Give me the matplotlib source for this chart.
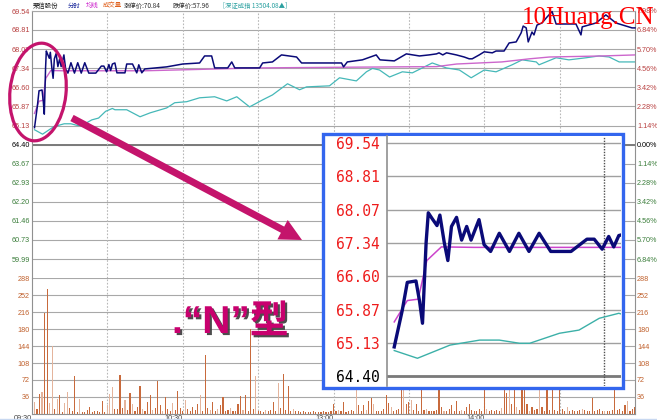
import matplotlib
matplotlib.use('Agg')
import matplotlib.pyplot as plt
from matplotlib.patches import Ellipse, FancyArrow, Rectangle
import matplotlib.patheffects as pe
import numpy as np

plt.rcParams['font.family'] = ['Liberation Sans', 'Noto Sans CJK SC', 'DejaVu Sans']

# ---------------- data ----------------
price_ticks = [69.54, 68.81, 68.07, 67.34, 66.60, 65.87, 65.13, 64.40,
               63.67, 62.93, 62.20, 61.46, 60.73, 59.99]
price_tick_labels = ['69.54', '68.81', '68.07', '67.34', '66.60', '65.87', '65.13', '64.40',
                     '63.67', '62.93', '62.20', '61.46', '60.73', '59.99']
pct_tick_labels = ['7.98%', '6.84%', '5.70%', '4.56%', '3.42%', '2.28%', '1.14%', '0.00%',
                   '1.14%', '2.28%', '3.42%', '4.56%', '5.70%', '6.84%']
vol_ticks = [288, 252, 216, 180, 144, 108, 72, 36]
vol_tick_labels = ['288', '252', '216', '180', '144', '108', '72', '36']
time_ticks = [0, 60, 120, 180]
time_labels = ['09:30', '10:30', '13:00', '14:00']
grid_minutes = [30, 60, 90, 120, 150, 180, 210]
inset_ticks = [69.54, 68.81, 68.07, 67.34, 66.60, 65.87, 65.13, 64.40]
inset_labels = ['69.54', '68.81', '68.07', '67.34', '66.60', '65.87', '65.13', '64.40']

# price line (minute, price)
price_t = [1.0, 2.1, 2.8, 4.0, 4.5, 4.9, 5.4, 5.7, 6.2, 6.9, 7.3, 7.9, 8.4, 8.9, 9.6,
           10.3, 11.0, 11.6, 12.7, 13.4, 14.3, 15.5, 16.9, 18.2, 19.6, 21.0, 22.6, 25.4,
           27.6, 28.6, 29.7, 30.6, 31.3, 32.0, 33.0, 33.8, 37.0, 37.7, 40.0, 41.7, 42.5,
           43.7, 44.9, 53.6, 60.0, 66.7, 68.7, 71.5, 72.7, 77.9, 79.5, 80.7, 90.6, 91.8,
           95.7, 99.3, 105.3, 107.3, 123.2, 124.0, 125.5, 131.5, 137.0, 138.5, 144.2,
           149.0, 154.2, 158.0, 161.0, 162.0, 163.5, 165.0, 168.9, 172.0, 174.0, 175.2,
           178.0, 180.0, 183.2, 184.7, 187.9, 189.9, 192.7, 194.7, 195.5, 196.7, 197.5,
           199.0, 199.8, 201.0, 203.0, 205.0, 207.0, 208.6, 216.5, 218.5, 219.0, 224.5,
           226.9, 228.4, 232.4, 238.8, 240.0]
price_v = [65.05, 65.85, 66.47, 66.50, 66.05, 65.57, 67.35, 68.00, 67.88, 67.72, 67.95,
           67.35, 66.95, 67.70, 67.90, 67.40, 67.70, 67.40, 67.85, 67.30, 67.15, 67.55,
           67.15, 67.55, 67.15, 67.55, 67.15, 67.15, 67.42, 67.42, 67.20, 67.48, 67.25,
           67.50, 67.54, 67.16, 67.16, 67.50, 67.50, 67.16, 67.47, 67.16, 67.31, 67.39,
           67.50, 67.54, 67.81, 67.81, 67.35, 67.35, 67.58, 67.35, 67.35, 67.54, 67.58,
           67.85, 67.77, 67.54, 67.54, 67.39, 67.58, 67.66, 67.85, 67.66, 67.62, 67.89,
           67.81, 67.85, 67.89, 67.93, 67.85, 67.93, 67.85, 67.77, 67.70, 67.70, 67.85,
           67.97, 67.93, 68.00, 68.00, 68.31, 68.35, 68.70, 68.96, 68.89, 68.35, 68.73,
           68.62, 69.00, 69.08, 69.31, 69.52, 69.04, 69.04, 68.62, 68.93, 69.08, 69.27,
           69.39, 69.08, 68.89, 68.89]

# average price line
avg_t = [1.0, 2.8, 4.3, 5.5, 7.5, 12.0, 45.0, 90.0, 130.0, 161.0, 169.0, 187.0,
         198.0, 206.0, 227.0, 240.0]
avg_v = [65.60, 66.07, 66.10, 66.95, 67.25, 67.24, 67.24, 67.35, 67.38, 67.40, 67.50,
         67.58, 67.70, 67.77, 67.81, 67.85]

# index line (scaled onto price axis)
idx_t = [1.0, 4.2, 8.7, 12.8, 15.5, 18.3, 19.7, 23.8, 26.5, 29.3, 32.0, 33.0, 37.7,
         43.0, 47.0, 53.6, 56.8, 61.6, 66.7, 72.7, 77.5, 81.5, 86.6, 91.8, 95.7, 101.7,
         106.5, 109.3, 118.4, 122.4, 129.1, 133.1, 135.5, 138.3, 142.3, 147.4, 151.4,
         159.3, 164.9, 170.1, 174.8, 180.0, 184.7, 191.1, 195.1, 200.7, 201.8, 208.6,
         213.7, 220.5, 225.7, 229.7, 233.7, 240.0]
idx_v = [64.97, 64.80, 65.09, 65.20, 65.20, 65.13, 65.13, 65.35, 65.42, 65.68, 65.79,
         65.74, 65.74, 65.47, 65.62, 65.81, 66.01, 66.05, 66.20, 66.24, 66.08, 66.24,
         65.85, 66.12, 66.31, 66.74, 66.51, 66.62, 66.66, 66.97, 66.85, 67.20, 67.33,
         67.27, 67.00, 67.20, 67.16, 67.54, 67.35, 67.27, 66.97, 67.27, 67.20, 67.47,
         67.66, 67.58, 67.47, 67.74, 67.66, 67.74, 67.81, 67.77, 67.58, 67.58]

# per-minute volume, minutes 1..240
volume = [26, 10, 42, 47, 215, 265, 24, 145, 10, 31,
          40, 3, 23, 47, 12, 5, 80, 3, 32, 3,
          3, 8, 15, 3, 5, 5, 3, 28, 3, 18,
          42, 56, 10, 10, 83, 12, 30, 8, 45, 20,
          6, 15, 60, 10, 5, 25, 40, 8, 12, 70,
          18, 6, 35, 10, 5, 22, 8, 48, 12, 6,
          30, 10, 5, 15, 8, 20, 40, 6, 126, 12,
          8, 25, 6, 10, 18, 35, 5, 8, 12, 6,
          5, 20, 37, 8, 40, 6, 180, 10, 80, 5,
          6, 4, 8, 5, 8, 25, 5, 66, 12, 85,
          8, 60, 5, 10, 5, 6, 4, 6, 3, 4,
          3, 5, 3, 4, 3, 5, 4, 3, 5, 20,
          6, 8, 5, 25, 4, 6, 8, 6, 75, 19,
          5, 19, 8, 27, 34, 20, 6, 5, 6, 10,
          40, 22, 15, 6, 8, 10, 80, 70, 20, 25,
          30, 8, 20, 6, 51, 8, 10, 6, 5, 6,
          8, 51, 15, 5, 6, 10, 19, 5, 28, 6,
          8, 6, 15, 20, 8, 6, 6, 10, 5, 51,
          10, 6, 8, 6, 8, 5, 12, 75, 45, 85,
          20, 70, 15, 8, 80, 90, 20, 6, 15, 8,
          10, 70, 15, 6, 75, 8, 70, 8, 6, 51,
          10, 6, 15, 5, 8, 6, 6, 8, 10, 8,
          5, 6, 34, 5, 8, 10, 6, 6, 5, 6,
          8, 55, 8, 10, 6, 19, 28, 6, 10, 15]
vol_minutes = list(range(1, 241))
vol_dir = ("LDDLDDLLDL" "DDLLDDDDLD" "DDDDDDDDDL" "LLDDD"
           "DLDDLDDDLD" "DDLDDDLDDD" "LDDDDLDDDD" "DLDDDLDDLD"
           "DDDLDDDDLD" "DDDLDDDLDD" "DDLDDDDDLD" "DDDDDDDDDD"
           "DDDDDDLDDD" "DDDLDDDLDD" "LDDDDDDLDD" "DDLDDLDDDD"
           "DLDDDDDDLD" "DDDDDLDDDD" "DDDDDLDDDD" "DLDDLDDLDD"
           "DDLDDDLDDD" "DDDDDDDLDD" "DDDLDDDDDD" "DDLDDDDDDD" "DLDDD")

# ---------------- figure ----------------
W, H = 657, 420
fig = plt.figure(figsize=(W / 100, H / 100), dpi=100)


def px_axes(l, t, r, b, **kw):
    return fig.add_axes([l / W, 1 - b / H, (r - l) / W, (b - t) / H], **kw)


GRID = '#a8a8a8'
LBL_FS = 5.2
up_c, zero_c, dn_c, vol_c = '#b84040', '#000000', '#3a7d3a', '#c0602c'

# price panel
axp = px_axes(32, 11, 635, 278.4)
axp.set_xlim(0, 240)
axp.set_ylim(59.25, 69.54)
axp.set_xticks([])
axp.set_yticks(price_ticks)
axp.set_yticklabels(price_tick_labels, fontsize=LBL_FS)
axp.tick_params(axis='y', length=0, pad=1.5)
pcols = [up_c] * 7 + [zero_c] + [dn_c] * 6
for lab, c in zip(axp.get_yticklabels(), pcols):
    lab.set_color(c)
axp.spines['bottom'].set_visible(False)
axp.spines['top'].set_color(GRID)
axp.spines['left'].set_color('#909090')
axp.spines['right'].set_color('#909090')
for v in price_ticks:
    axp.axhline(v, color=GRID, lw=0.8, zorder=0)
axp.axhline(64.40, color='#7a7a7a', lw=1.4, zorder=0)
for m in grid_minutes:
    axp.axvline(m, color='#b8b8b8', lw=0.8, ls=(0, (1.5, 1.5)), zorder=0)

axp.plot(idx_t, idx_v, color='#45b8b8', lw=0.9, zorder=2)
axp.plot(avg_t, avg_v, color='#cc66cc', lw=1.0, zorder=3)
axp.plot(price_t, price_v, color='#0a0a78', lw=1.1, zorder=4, clip_on=False)

axr = axp.twinx()
axr.set_ylim(axp.get_ylim())
axr.set_yticks(price_ticks)
axr.set_yticklabels(pct_tick_labels, fontsize=LBL_FS)
axr.tick_params(axis='y', length=0, pad=1.5)
for lab, c in zip(axr.get_yticklabels(), pcols):
    lab.set_color(c)
for s in axr.spines.values():
    s.set_visible(False)

# volume panel
axv = px_axes(32, 278.4, 635, 413.8)
axv.set_xlim(0, 240)
axv.set_ylim(0, 288)
axv.set_yticks(vol_ticks)
axv.set_yticklabels(vol_tick_labels, fontsize=LBL_FS, color=vol_c)
axv.tick_params(axis='y', length=0, pad=1.5)
axv.set_xticks(time_ticks)
axv.set_xticklabels(time_labels, fontsize=LBL_FS, color='#404040', ha='right')
axv.tick_params(axis='x', length=0, pad=1.0)
axv.patch.set_alpha(0)
axv.spines['top'].set_visible(False)
axv.spines['bottom'].set_color('#909090')
axv.spines['left'].set_color('#909090')
axv.spines['right'].set_color('#909090')
for v in vol_ticks:
    axv.axhline(v, color=GRID, lw=0.8, zorder=0)
for m in grid_minutes:
    axv.axvline(m, color='#b8b8b8', lw=0.8, ls=(0, (1.5, 1.5)), zorder=0)
bar_cols = ['#e4b49c' if d == 'L' else '#c86a3c' for d in vol_dir]
axv.bar(vol_minutes, volume, width=0.45, color=bar_cols, zorder=2)
axvr = axv.twinx()
axvr.set_ylim(0, 288)
axvr.set_yticks(vol_ticks)
axvr.set_yticklabels(vol_tick_labels, fontsize=LBL_FS, color=vol_c)
axvr.tick_params(axis='y', length=0, pad=1.5)
for s in axvr.spines.values():
    s.set_visible(False)

# overlay (pixel coordinates) for annotations
ov = fig.add_axes([0, 0, 1, 1])
ov.set_xlim(0, W)
ov.set_ylim(H, 0)
ov.axis('off')
ov.patch.set_alpha(0)

ACC = '#c4146c'
ov.add_patch(Ellipse((38, 92), width=56, height=98, angle=6, fill=False,
                     edgecolor=ACC, lw=2.3))
ov.add_patch(FancyArrow(72, 118, 230, 122, width=7, head_width=22, head_length=22,
                        length_includes_head=True, color=ACC, lw=0))
ov.text(172, 333, '.“N”型', fontsize=28, fontweight='bold', color='#c8006e',
        family=['Liberation Sans', 'Noto Sans CJK SC'], va='baseline',
        path_effects=[pe.SimplePatchShadow(offset=(1.5, -1.5), shadow_rgbFace='#3a3a3a', alpha=0.9),
                      pe.Normal()])

# header
hdr = [(33, '荣信股份', '#202020'), (68, '分时', '#1c2a9c'), (86, '均线', '#cc22cc'),
       (103, '成交量', '#e0601c'), (124, '涨停价:70.84', '#303030'),
       (173, '跌停价:57.96', '#303030'), (223, '[深证成指 13504.08▲]', '#2aa0a0')]
for x, s, c in hdr:
    ov.text(x, 5.5, s, fontsize=4.6, color=c, va='center', ha='left',
            family=['Noto Sans CJK SC', 'DejaVu Sans'])

# watermark
ov.text(522, 24, '10Huang.CN', fontsize=18, color='#ff0000', family='Liberation Serif',
        va='baseline', ha='left', zorder=10)

# bottom light line
ov.plot([0, W], [418.5, 418.5], color='#c8d8f0', lw=1)

# inset box
ov.add_patch(Rectangle((323, 134), 300, 254, facecolor='white', edgecolor='#3366ee',
                       lw=2.4, zorder=5))

axi = px_axes(387, 136, 621, 386)
axi.set_zorder(10)
axi.set_xlim(0, 32.3)
axi.set_ylim(64.19, 69.69)
axi.set_xticks([])
axi.set_yticks(inset_ticks)
axi.set_yticklabels(inset_labels, fontsize=10.5, family='DejaVu Sans Mono')
axi.tick_params(axis='y', length=0, pad=5)
for lab, c in zip(axi.get_yticklabels(), ['#ee1c1c'] * 7 + ['#000000']):
    lab.set_color(c)
for s in ['top', 'right', 'bottom']:
    axi.spines[s].set_visible(False)
axi.spines['left'].set_color('#909090')
axi.spines['left'].set_linewidth(1.2)
for v in inset_ticks:
    axi.axhline(v, color='#a0a0a0', lw=1.0, zorder=0)
axi.axhline(64.40, color='#7a7a7a', lw=2.0, zorder=0)
axi.axvline(30, color='#505050', lw=1.0, ls=(0, (1, 1)), zorder=0)
axi.plot(idx_t, idx_v, color='#3cb0a8', lw=1.0)
axi.plot(avg_t, avg_v, color='#cc44cc', lw=1.1)
axi.plot(price_t, price_v, color='#0a0a78', lw=2.4)

fig.savefig('out.png', dpi=100)
